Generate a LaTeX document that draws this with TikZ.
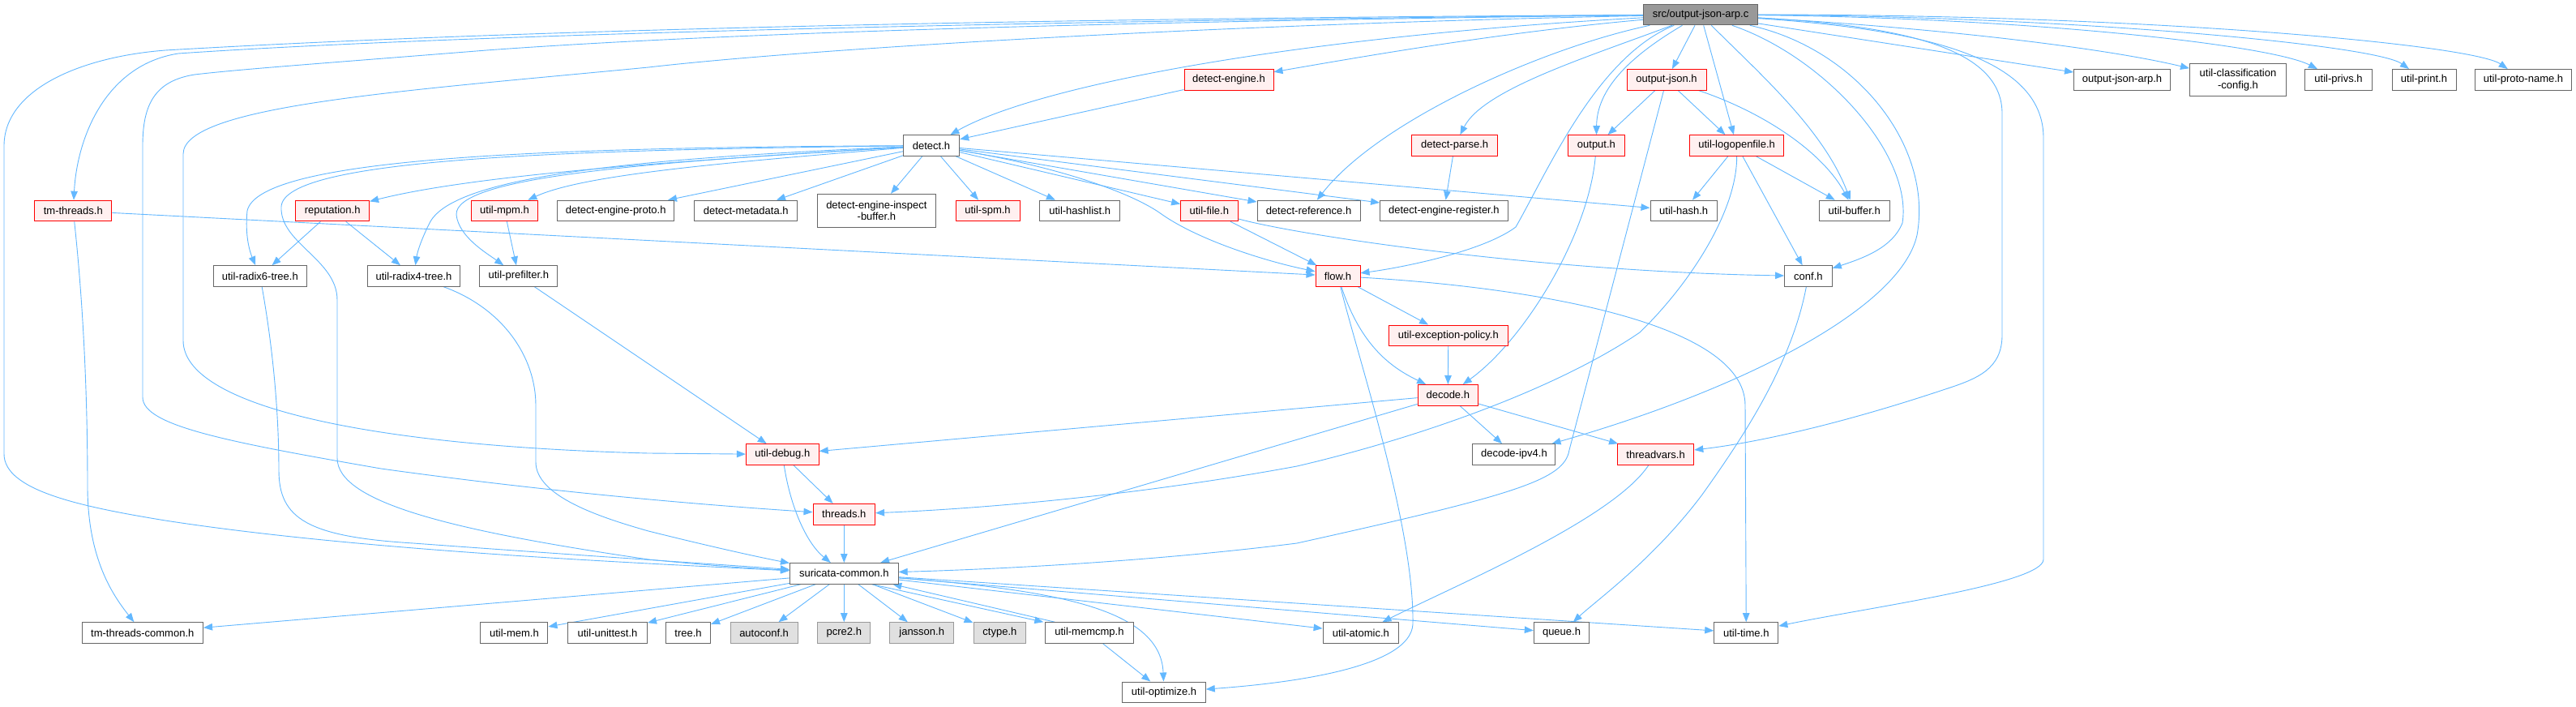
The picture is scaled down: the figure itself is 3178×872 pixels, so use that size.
\documentclass[tikz,border=0pt]{standalone}
\usepackage{fontspec}
\setmainfont{Liberation Sans}
\usetikzlibrary{arrows.meta,calc}
\definecolor{edgec}{HTML}{63B8FF}
\definecolor{bordn}{HTML}{666666}
\definecolor{fillr}{HTML}{FFF0F0}
\definecolor{srcfill}{HTML}{999999}
\definecolor{sysfill}{HTML}{E0E0E0}
\definecolor{sysbord}{HTML}{999999}
\pgfdeclarelayer{bg}
\pgfsetlayers{bg,main}
\begin{document}
\begin{tikzpicture}[x=1pt,y=-1pt,
  base/.style={rectangle, inner sep=0pt, minimum height=25.6pt, line width=1pt, font=\fontsize{13}{14.5}\selectfont, align=center, text=black},
  nw/.style={base, draw=bordn, fill=white},
  nr/.style={base, draw=red, fill=fillr},
  ns/.style={base, draw=sysbord, fill=sysfill},
  nsrc/.style={base, draw=bordn, fill=srcfill},
  ed/.style={draw=edgec, line width=0.9pt, -{Triangle[length=11pt,width=8.5pt]}}]
\useasboundingbox (0,0) rectangle (3178,872);

\node[nsrc, minimum width=141pt] (src) at (2098,18) {src/output-json-arp.c};
\node[nr, minimum width=110pt] (de) at (1516,98.3) {detect-engine.h};
\node[nr, minimum width=98pt] (oj) at (2056,98.3) {output-json.h};
\node[nw, minimum width=119pt] (oja) at (2618,98.3) {output-json-arp.h};
\node[nw, minimum width=119pt, minimum height=40.7pt] (ucc) at (2761,98.6) {util-classification\\-config.h};
\node[nw, minimum width=82.5pt] (upv) at (2885,98.3) {util-privs.h};
\node[nw, minimum width=79pt] (upr) at (2990.5,98.3) {util-print.h};
\node[nw, minimum width=119pt] (upn) at (3113,98.3) {util-proto-name.h};
\node[nw, minimum width=69.4pt] (det) at (1149,179.5) {detect.h};
\node[nr, minimum width=105.6pt] (dp) at (1794.6,179.5) {detect-parse.h};
\node[nr, minimum width=69.3pt] (out) at (1969.4,179.5) {output.h};
\node[nr, minimum width=115.8pt] (ulf) at (2142.6,179.5) {util-logopenfile.h};
\node[nr, minimum width=95pt] (tmt) at (90.3,260) {tm-threads.h};
\node[nr, minimum width=90.8pt] (rep) at (410.2,260) {reputation.h};
\node[nr, minimum width=81.7pt] (mpm) at (622.5,260) {util-mpm.h};
\node[nw, minimum width=143.8pt] (dep) at (759.7,260) {detect-engine-proto.h};
\node[nw, minimum width=127pt] (dmd) at (920.2,260) {detect-metadata.h};
\node[nw, minimum width=146.4pt, minimum height=40.7pt] (deib) at (1081.4,259.7) {detect-engine-inspect\\-buffer.h};
\node[nr, minimum width=79pt] (spm) at (1218.5,260) {util-spm.h};
\node[nw, minimum width=99pt] (uhl) at (1332.2,260) {util-hashlist.h};
\node[nr, minimum width=70.4pt] (ufile) at (1491.8,260) {util-file.h};
\node[nw, minimum width=127pt] (dref) at (1614.5,260) {detect-reference.h};
\node[nw, minimum width=157.6pt] (der) at (1781.4,260) {detect-engine-register.h};
\node[nw, minimum width=82.4pt] (uhash) at (2077.2,260) {util-hash.h};
\node[nw, minimum width=86.6pt] (ubuf) at (2287.7,260) {util-buffer.h};
\node[nw, minimum width=115.6pt] (r6) at (320.8,340.5) {util-radix6-tree.h};
\node[nw, minimum width=114.9pt] (r4) at (510.5,340.5) {util-radix4-tree.h};
\node[nw, minimum width=96pt] (upf) at (639.8,340.5) {util-prefilter.h};
\node[nr, minimum width=55pt] (flow) at (1650.5,340.5) {flow.h};
\node[nw, minimum width=58.7pt] (conf) at (2230.9,340.5) {conf.h};
\node[nr, minimum width=146.9pt] (uep) at (1786.8,413.8) {util-exception-policy.h};
\node[nr, minimum width=74.5pt] (dec) at (1786.3,487.3) {decode.h};
\node[nr, minimum width=89.8pt] (udbg) at (965.3,560.5) {util-debug.h};
\node[nw, minimum width=102.1pt] (dip4) at (1867.9,560.5) {decode-ipv4.h};
\node[nr, minimum width=94.4pt] (tv) at (2042.6,560.5) {threadvars.h};
\node[nr, minimum width=76.6pt] (thr) at (1041.3,634.2) {threads.h};
\node[nw, minimum width=133.7pt] (sc) at (1041.3,707.3) {suricata-common.h};
\node[nw, minimum width=149.5pt] (tmc) at (175.8,780.5) {tm-threads-common.h};
\node[nw, minimum width=83.1pt] (umem) at (634.4,780.5) {util-mem.h};
\node[nw, minimum width=98pt] (uut) at (749.5,780.5) {util-unittest.h};
\node[nw, minimum width=55.1pt] (tree) at (849,780.5) {tree.h};
\node[ns, minimum width=83.2pt] (ac) at (942.6,780.5) {autoconf.h};
\node[ns, minimum width=65.3pt] (pcre) at (1041.3,780.5) {pcre2.h};
\node[ns, minimum width=78.5pt] (jan) at (1137.2,780.5) {jansson.h};
\node[ns, minimum width=64.8pt] (ctype) at (1233.4,780.5) {ctype.h};
\node[nw, minimum width=108.2pt] (umc) at (1343.9,780.5) {util-memcmp.h};
\node[nw, minimum width=102.5pt] (uopt) at (1436,853.8) {util-optimize.h};
\node[nw, minimum width=93.4pt] (uat) at (1678.8,780.5) {util-atomic.h};
\node[nw, minimum width=68.4pt] (queue) at (1926.5,780.5) {queue.h};
\node[nw, minimum width=79.1pt] (utime) at (2154.3,780.5) {util-time.h};

\begin{pgfonlayer}{bg}
\fill[white] (0,0) rectangle (3178,872);
% from src
\draw[ed] (src) .. controls (1400,22) and (700,33) .. (204,62) .. controls (100,70) and (5,110) .. (5,180) -- (5,560) .. controls (5,605) and (100,625) .. (204,642) .. controls (450,680) and (800,695) .. (sc);
\draw[ed] (src) .. controls (1400,24) and (600,40) .. (220,66) .. controls (130,80) and (95,170) .. (tmt);
\draw[ed] (src) .. controls (1400,26) and (900,40) .. (600,62) .. controls (400,78) and (300,85) .. (240,92) .. controls (190,100) and (176,130) .. (176,180) -- (176,490) .. controls (176,525) and (280,545) .. (470,578) .. controls (700,610) and (900,625) .. (thr);
\draw[ed] (src) .. controls (1500,30) and (1000,60) .. (800,83) .. controls (500,112) and (226,130) .. (226,190) -- (226,420) .. controls (226,500) and (450,550) .. (800,559) -- (udbg);
\draw[ed] (src) .. controls (1600,45) and (1280,105) .. (det);
\draw[ed] (src) .. controls (1850,40) and (1680,70) .. (de);
\draw[ed] (src) .. controls (1900,60) and (1700,150) .. (dref);
\draw[ed] (src) .. controls (1960,70) and (1830,110) .. (dp);
\draw[ed] (src) .. controls (1970,70) and (1910,210) .. (1870,280) .. controls (1830,310) and (1730,330) .. (flow);
\draw[ed] (src) .. controls (2010,70) and (1970,110) .. (out);
\draw[ed] (src) -- (oj);
\draw[ed] (src) -- (ulf);
\draw[ed] (src) .. controls (2170,90) and (2250,160) .. (ubuf);
\draw[ed] (src) .. controls (2250,70) and (2360,190) .. (2347,275) .. controls (2335,305) and (2300,318) .. (conf);
\draw[ed] (src) .. controls (2290,60) and (2385,180) .. (2365,290) .. controls (2345,380) and (2150,480) .. (dip4);
\draw[ed] (src) .. controls (2350,32) and (2470,60) .. (2470,140) -- (2470,413) .. controls (2470,455) and (2440,467) .. (2400,480) .. controls (2250,530) and (2150,548) .. (tv);
\draw[ed] (src) .. controls (2370,36) and (2521,70) .. (2521,170) -- (2521,690) .. controls (2521,720) and (2300,750) .. (utime);
\draw[ed] (src) -- (oja);
\draw[ed] (src) .. controls (2400,35) and (2600,60) .. (ucc);
\draw[ed] (src) .. controls (2500,22) and (2800,55) .. (upv);
\draw[ed] (src) .. controls (2550,20) and (2930,55) .. (upr);
\draw[ed] (src) .. controls (2650,18) and (3050,55) .. (upn);
% detect.h
\draw[ed] (det) -- (dep);
\draw[ed] (det) -- (dmd);
\draw[ed] (det) -- (deib);
\draw[ed] (det) -- (spm);
\draw[ed] (det) -- (uhl);
\draw[ed] (det) -- (ufile);
\draw[ed] (det) -- (dref);
\draw[ed] (det) -- (der);
\draw[ed] (det) -- (uhash);
\draw[ed] (det) .. controls (1300,205) and (1390,235) .. (1430,262) .. controls (1475,295) and (1560,322) .. (flow);
\draw[ed] (det) .. controls (900,195) and (600,212) .. (rep);
\draw[ed] (det) .. controls (900,200) and (720,215) .. (mpm);
\draw[ed] (det) .. controls (700,182) and (320,192) .. (305,260) .. controls (302,290) and (308,310) .. (r6);
\draw[ed] (det) .. controls (700,185) and (350,195) .. (347,255) .. controls (345,300) and (416,320) .. (416,370) -- (416,565) .. controls (416,620) and (560,655) .. (800,690) .. controls (900,700) and (950,702) .. (sc);
\draw[ed] (det) .. controls (800,195) and (560,215) .. (530,275) .. controls (520,295) and (515,310) .. (r4);
\draw[ed] (det) .. controls (800,200) and (560,218) .. (563,265) .. controls (566,292) and (600,312) .. (upf);
% others
\draw[ed] (de) -- (det);
\draw[ed] (dp) -- (der);
\draw[ed] (oj) -- (out);
\draw[ed] (oj) -- (ulf);
\draw[ed] (oj) .. controls (2180,140) and (2250,190) .. (ubuf);
\draw[ed] (oj) -- (1936,555) .. controls (1930,592) and (1870,610) .. (1600,670) .. controls (1400,695) and (1200,703) .. (sc);
\draw[ed] (ulf) -- (uhash);
\draw[ed] (ulf) -- (ubuf);
\draw[ed] (ulf) -- (conf);
\draw[ed] (ulf) .. controls (2143,260) and (2085,350) .. (2023,410) .. controls (1920,480) and (1750,540) .. (1600,575) .. controls (1400,612) and (1200,628) .. (thr);
\draw[ed] (out) .. controls (1960,290) and (1880,420) .. (dec);
\draw[ed] (tmt) -- (flow);
\draw[ed] (tmt) .. controls (100,350) and (108,460) .. (108,600) .. controls (108,690) and (140,735) .. (tmc);
\draw[ed] (rep) -- (r6);
\draw[ed] (rep) -- (r4);
\draw[ed] (mpm) -- (upf);
\draw[ed] (upf) -- (udbg);
\draw[ed] (r6) .. controls (335,420) and (344,500) .. (344,580) .. controls (344,640) and (380,662) .. (510,670) .. controls (700,684) and (900,697) .. (sc);
\draw[ed] (r4) .. controls (620,380) and (661,440) .. (661,500) -- (661,570) .. controls (661,612) and (740,638) .. (800,655) .. controls (880,675) and (940,688) .. (sc);
\draw[ed] (ufile) -- (flow);
\draw[ed] (ufile) .. controls (1600,290) and (1900,335) .. (conf);
\draw[ed] (flow) -- (uep);
\draw[ed] (flow) .. controls (1680,430) and (1720,455) .. (dec);
\draw[ed] (flow) .. controls (1675,440) and (1745,650) .. (1743,770) .. controls (1740,822) and (1600,842) .. (uopt);
\draw[ed] (flow) .. controls (1900,355) and (2153,400) .. (2153,500) -- (utime);
\draw[ed] (uep) -- (dec);
\draw[ed] (dec) -- (udbg);
\draw[ed] (dec) -- (sc);
\draw[ed] (dec) -- (dip4);
\draw[ed] (dec) -- (tv);
\draw[ed] (tv) .. controls (1990,640) and (1800,720) .. (uat);
\draw[ed] (conf) .. controls (2210,450) and (2150,540) .. (2100,610) .. controls (2040,690) and (1970,740) .. (queue);
\draw[ed] (udbg) -- (thr);
\draw[ed] (udbg) .. controls (975,625) and (995,670) .. (sc);
\draw[ed] (thr) -- (sc);
% suricata-common.h
\draw[ed] (sc) -- (tmc);
\draw[ed] (sc) -- (umem);
\draw[ed] (sc) -- (uut);
\draw[ed] (sc) -- (tree);
\draw[ed] (sc) -- (ac);
\draw[ed] (sc) -- (pcre);
\draw[ed] (sc) -- (jan);
\draw[ed] (sc) -- (ctype);
\draw[ed] ($(sc.south)+(34,0)$) -- ($(umc.north west)+(-2,0)$);
\draw[ed] ($(umc.north west)+(12,0)$) -- ($(sc.south)+(60,0)$);
\draw[ed] (sc) .. controls (1300,728) and (1432,750) .. (uopt);
\draw[ed] (umc) -- (uopt);
\draw[ed] (sc) -- (uat);
\draw[ed] (sc) -- (queue);
\draw[ed] (sc) -- (utime);
\end{pgfonlayer}
\end{tikzpicture}
\end{document}
